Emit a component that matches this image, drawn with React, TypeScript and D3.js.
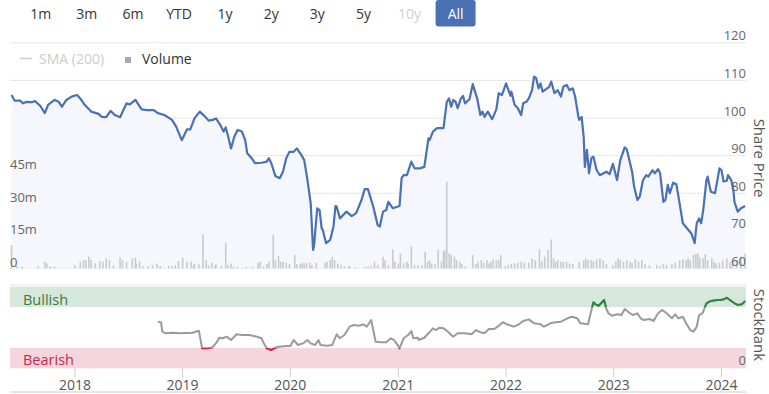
import React from 'react';
import * as d3 from 'd3';

// year-fraction, price
const priceSeries: [number, number][] = [
  [2017.41, 106.1], [2017.44, 104.6], [2017.49, 104.6], [2017.52, 103.9], [2017.55, 104.3], [2017.6, 104.2],
  [2017.63, 104.5], [2017.68, 103.2], [2017.72, 101.3], [2017.75, 103.5], [2017.81, 104.8], [2017.85, 104.3],
  [2017.88, 103.0], [2017.92, 104.8], [2017.97, 105.7], [2018.02, 106.1], [2018.05, 105.2], [2018.09, 103.5],
  [2018.15, 101.7], [2018.22, 101.1], [2018.25, 100.3], [2018.29, 100.2], [2018.33, 101.9], [2018.37, 100.8],
  [2018.42, 100.2], [2018.48, 103.9], [2018.51, 103.6], [2018.56, 104.8], [2018.62, 102.3], [2018.67, 102.1],
  [2018.73, 102.1], [2018.77, 101.3], [2018.83, 100.8], [2018.9, 99.5], [2018.94, 97.7], [2018.99, 94.1],
  [2019.04, 97.0], [2019.07, 97.0], [2019.11, 99.9], [2019.16, 101.7], [2019.21, 100.3], [2019.24, 99.3],
  [2019.28, 99.5], [2019.31, 99.9], [2019.35, 98.1], [2019.38, 96.4], [2019.4, 97.5], [2019.42, 95.5],
  [2019.45, 91.9], [2019.48, 95.0], [2019.51, 96.8], [2019.55, 96.4], [2019.58, 94.1], [2019.6, 90.6],
  [2019.64, 89.3], [2019.67, 88.0], [2019.73, 88.1], [2019.78, 88.4], [2019.8, 89.3], [2019.82, 88.1],
  [2019.86, 84.6], [2019.9, 84.0], [2019.93, 85.7], [2019.96, 89.3], [2019.99, 91.0], [2020.03, 91.0],
  [2020.06, 91.9], [2020.1, 90.2], [2020.13, 88.8], [2020.16, 83.5], [2020.19, 77.3], [2020.21, 64.9],
  [2020.22, 65.8], [2020.25, 76.0], [2020.27, 75.5], [2020.29, 70.7], [2020.3, 70.2], [2020.33, 66.7],
  [2020.37, 67.6], [2020.4, 71.1], [2020.42, 76.6], [2020.43, 76.4], [2020.46, 73.3], [2020.52, 75.1],
  [2020.57, 73.9], [2020.61, 74.7], [2020.66, 78.2], [2020.69, 81.1], [2020.72, 81.1], [2020.77, 76.4],
  [2020.81, 71.5], [2020.83, 71.1], [2020.86, 75.1], [2020.89, 75.5], [2020.91, 77.7], [2020.95, 76.0],
  [2021.01, 76.6], [2021.03, 84.0], [2021.05, 84.8], [2021.08, 84.8], [2021.12, 88.4], [2021.15, 86.6],
  [2021.2, 86.6], [2021.24, 87.0], [2021.28, 94.6], [2021.29, 94.1], [2021.32, 96.4], [2021.36, 97.3],
  [2021.42, 97.3], [2021.45, 104.3], [2021.47, 105.2], [2021.49, 103.0], [2021.51, 104.8], [2021.53, 104.3],
  [2021.55, 102.6], [2021.58, 105.2], [2021.6, 105.9], [2021.62, 103.9], [2021.66, 105.0], [2021.69, 109.0],
  [2021.73, 105.2], [2021.76, 100.8], [2021.78, 101.7], [2021.8, 100.3], [2021.83, 101.7], [2021.87, 99.7],
  [2021.91, 102.3], [2021.93, 106.6], [2021.96, 106.1], [2022.0, 109.2], [2022.04, 105.9], [2022.05, 107.0],
  [2022.08, 103.5], [2022.11, 102.6], [2022.14, 100.8], [2022.16, 103.9], [2022.19, 104.3], [2022.21, 105.2],
  [2022.24, 107.4], [2022.26, 111.0], [2022.28, 110.6], [2022.3, 107.9], [2022.32, 109.2], [2022.34, 107.0],
  [2022.38, 107.9], [2022.4, 108.3], [2022.42, 109.7], [2022.45, 106.6], [2022.48, 107.4], [2022.51, 105.7],
  [2022.53, 108.3], [2022.56, 108.8], [2022.59, 107.4], [2022.62, 107.9], [2022.64, 105.7], [2022.67, 100.3],
  [2022.68, 99.5], [2022.7, 100.3], [2022.72, 95.0], [2022.73, 87.0], [2022.75, 91.5], [2022.77, 85.3],
  [2022.79, 89.3], [2022.81, 89.7], [2022.84, 86.1], [2022.87, 84.8], [2022.93, 85.7], [2022.96, 85.1],
  [2022.99, 87.8], [2023.03, 83.5], [2023.06, 88.8], [2023.1, 92.2], [2023.12, 91.7], [2023.15, 88.0],
  [2023.17, 85.7], [2023.19, 81.7], [2023.22, 78.2], [2023.24, 79.1], [2023.27, 83.5], [2023.3, 84.8],
  [2023.32, 84.4], [2023.36, 86.1], [2023.38, 85.3], [2023.41, 86.4], [2023.43, 85.3], [2023.46, 77.7],
  [2023.48, 78.2], [2023.5, 82.2], [2023.52, 80.0], [2023.55, 82.8], [2023.58, 82.4], [2023.61, 77.3],
  [2023.64, 72.0], [2023.68, 70.7], [2023.72, 69.3], [2023.75, 66.7], [2023.77, 72.0], [2023.79, 73.3],
  [2023.81, 72.0], [2023.83, 75.5], [2023.86, 83.5], [2023.87, 84.4], [2023.9, 80.4], [2023.94, 80.0],
  [2023.95, 81.7], [2023.98, 86.6], [2024.0, 86.1], [2024.02, 83.1], [2024.05, 83.3], [2024.06, 84.8],
  [2024.09, 83.5], [2024.11, 80.9], [2024.12, 77.7], [2024.15, 75.1], [2024.18, 76.0], [2024.22, 76.6],
];

// year-fraction, volume in millions
const volumeSeries: [number, number][] = [
  [2017.41, 10.8], [2017.46, 1.1], [2017.51, 0.8], [2017.66, 1.1], [2017.72, 3.1], [2017.74, 2.3], [2017.77, 1.1],
  [2017.81, 0.8], [2018.0, 1.5], [2018.05, 3.1], [2018.08, 3.8], [2018.1, 3.8], [2018.13, 5.4], [2018.15, 3.8],
  [2018.19, 2.3], [2018.23, 3.4], [2018.26, 3.1], [2018.29, 4.6], [2018.32, 3.8], [2018.36, 1.5], [2018.42, 5.1],
  [2018.44, 3.8], [2018.48, 3.1], [2018.53, 4.6], [2018.56, 4.9], [2018.57, 2.3], [2018.6, 3.4], [2018.63, 1.1],
  [2018.68, 1.1], [2018.72, 1.5], [2018.76, 2.3], [2018.79, 1.1], [2018.87, 1.1], [2018.9, 1.1], [2018.93, 1.5],
  [2018.96, 3.4], [2019.0, 4.9], [2019.04, 3.1], [2019.08, 3.1], [2019.1, 1.5], [2019.11, 2.3], [2019.15, 2.0],
  [2019.19, 15.8], [2019.22, 3.8], [2019.24, 1.5], [2019.27, 2.6], [2019.3, 1.5], [2019.31, 2.0], [2019.36, 1.1],
  [2019.4, 11.8], [2019.42, 1.5], [2019.45, 2.3], [2019.47, 0.8], [2019.51, 0.8], [2019.56, 0.3], [2019.59, 0.8],
  [2019.65, 0.8], [2019.7, 2.6], [2019.72, 3.1], [2019.75, 0.8], [2019.78, 2.0], [2019.8, 3.1], [2019.84, 15.4],
  [2019.86, 3.8], [2019.89, 5.7], [2019.91, 3.1], [2019.93, 3.1], [2019.96, 2.6], [2019.99, 2.0], [2020.04, 6.2],
  [2020.06, 2.0], [2020.09, 2.0], [2020.11, 2.6], [2020.13, 2.3], [2020.15, 2.3], [2020.18, 2.6], [2020.2, 1.5],
  [2020.24, 2.6], [2020.32, 2.6], [2020.34, 3.1], [2020.37, 3.8], [2020.39, 5.1], [2020.41, 3.8], [2020.44, 2.3],
  [2020.47, 1.5], [2020.5, 1.1], [2020.54, 0.8], [2020.55, 1.1], [2020.6, 0.5], [2020.69, 0.8], [2020.72, 0.8],
  [2020.75, 1.1], [2020.78, 3.1], [2020.81, 1.5], [2020.86, 5.4], [2020.88, 3.8], [2020.91, 1.5], [2020.95, 8.8],
  [2020.97, 3.1], [2021.0, 2.3], [2021.02, 6.9], [2021.05, 2.3], [2021.08, 3.1], [2021.09, 2.3], [2021.12, 10.3],
  [2021.15, 1.5], [2021.18, 1.5], [2021.22, 1.5], [2021.25, 7.7], [2021.27, 3.1], [2021.29, 3.8], [2021.31, 2.3],
  [2021.34, 2.0], [2021.37, 8.5], [2021.4, 3.1], [2021.42, 7.7], [2021.43, 8.5], [2021.45, 40.0], [2021.47, 6.9],
  [2021.49, 6.2], [2021.52, 5.4], [2021.54, 3.8], [2021.57, 3.1], [2021.59, 2.0], [2021.62, 0.8], [2021.69, 6.2],
  [2021.72, 2.0], [2021.74, 3.1], [2021.77, 3.8], [2021.79, 2.6], [2021.82, 3.8], [2021.84, 2.3], [2021.86, 3.1],
  [2021.88, 4.1], [2021.91, 3.8], [2021.93, 3.8], [2021.95, 6.2], [2021.99, 1.1], [2022.02, 1.5], [2022.05, 2.0],
  [2022.08, 2.3], [2022.11, 2.6], [2022.14, 3.1], [2022.17, 2.6], [2022.21, 2.6], [2022.24, 4.6], [2022.27, 3.8],
  [2022.31, 8.8], [2022.33, 3.1], [2022.36, 5.4], [2022.39, 8.5], [2022.42, 13.4], [2022.44, 4.6], [2022.46, 3.1],
  [2022.48, 3.8], [2022.51, 3.1], [2022.53, 3.1], [2022.56, 3.1], [2022.59, 2.3], [2022.62, 2.0], [2022.68, 3.1],
  [2022.72, 3.8], [2022.74, 4.6], [2022.76, 3.8], [2022.79, 3.8], [2022.81, 3.1], [2022.84, 4.1], [2022.87, 4.6],
  [2022.9, 3.8], [2022.93, 2.0], [2022.99, 1.5], [2023.02, 3.1], [2023.04, 4.6], [2023.06, 3.8], [2023.09, 3.1],
  [2023.12, 3.8], [2023.15, 3.1], [2023.17, 2.6], [2023.2, 4.1], [2023.23, 3.1], [2023.26, 3.8], [2023.29, 2.0],
  [2023.33, 1.5], [2023.4, 1.5], [2023.43, 1.1], [2023.46, 2.0], [2023.49, 1.5], [2023.54, 2.0], [2023.57, 2.6],
  [2023.61, 3.8], [2023.64, 4.1], [2023.67, 3.8], [2023.69, 4.6], [2023.71, 3.8], [2023.74, 6.2], [2023.76, 6.6],
  [2023.78, 6.9], [2023.8, 5.1], [2023.83, 4.6], [2023.85, 6.6], [2023.87, 3.8], [2023.91, 4.6], [2023.93, 3.1],
  [2023.95, 2.3], [2023.98, 2.6], [2024.01, 3.8], [2024.05, 4.6], [2024.08, 3.1], [2024.1, 4.1], [2024.14, 3.8],
  [2024.18, 5.4], [2024.22, 6.9],
];

// year-fraction, StockRank (0-100)
const rankSeries: [number, number][] = [
  [2018.77, 57.1], [2018.8, 56.4], [2018.81, 44.9], [2018.84, 42.9], [2018.91, 43.6], [2018.98, 42.9],
  [2019.09, 43.6], [2019.15, 46.1], [2019.18, 24.6], [2019.23, 24.6], [2019.28, 25.8], [2019.32, 32.6],
  [2019.34, 37.5], [2019.37, 36.8], [2019.41, 38.7], [2019.45, 34.7], [2019.5, 41.7], [2019.55, 40.8],
  [2019.62, 40.8], [2019.69, 38.7], [2019.73, 36.8], [2019.75, 31.4], [2019.78, 24.5], [2019.82, 22.4],
  [2019.86, 25.2], [2019.89, 26.5], [2019.96, 27.3], [2020.0, 27.3], [2020.03, 34.7], [2020.07, 28.6],
  [2020.12, 30.6], [2020.16, 34.7], [2020.19, 30.6], [2020.23, 28.6], [2020.26, 34.7], [2020.28, 28.6],
  [2020.34, 27.7], [2020.39, 28.6], [2020.43, 41.7], [2020.46, 36.8], [2020.5, 40.8], [2020.55, 51.0],
  [2020.59, 53.1], [2020.64, 52.2], [2020.68, 53.9], [2020.71, 51.0], [2020.75, 59.2], [2020.79, 32.6],
  [2020.84, 31.9], [2020.89, 31.9], [2020.93, 36.8], [2020.96, 34.7], [2020.99, 29.4], [2021.01, 24.6],
  [2021.05, 36.8], [2021.09, 40.8], [2021.12, 45.7], [2021.14, 36.8], [2021.18, 37.5], [2021.19, 34.7],
  [2021.24, 37.5], [2021.28, 42.9], [2021.32, 49.0], [2021.35, 46.9], [2021.38, 49.8], [2021.42, 49.0],
  [2021.46, 44.9], [2021.51, 38.7], [2021.55, 42.9], [2021.62, 42.9], [2021.68, 41.7], [2021.72, 46.9],
  [2021.76, 44.1], [2021.8, 42.9], [2021.84, 48.2], [2021.89, 48.2], [2021.92, 51.0], [2021.97, 56.4],
  [2022.01, 53.9], [2022.07, 51.0], [2022.12, 53.9], [2022.16, 58.0], [2022.21, 60.0], [2022.26, 55.1],
  [2022.32, 53.9], [2022.35, 51.0], [2022.41, 55.1], [2022.46, 56.4], [2022.51, 57.1], [2022.57, 61.3],
  [2022.61, 63.2], [2022.66, 61.3], [2022.69, 55.1], [2022.76, 53.9], [2022.78, 65.3], [2022.81, 80.9],
  [2022.83, 78.4], [2022.86, 76.7], [2022.89, 80.9], [2022.91, 83.7], [2022.93, 72.7], [2022.95, 67.4],
  [2022.98, 64.5], [2023.03, 66.2], [2023.07, 65.3], [2023.1, 72.7], [2023.15, 67.4], [2023.18, 65.3],
  [2023.22, 67.4], [2023.25, 61.3], [2023.28, 59.2], [2023.33, 60.4], [2023.37, 58.0], [2023.41, 67.4],
  [2023.45, 71.4], [2023.49, 67.4], [2023.54, 61.3], [2023.57, 66.2], [2023.6, 61.3], [2023.64, 63.2],
  [2023.67, 55.1], [2023.71, 46.9], [2023.74, 44.9], [2023.77, 51.0], [2023.79, 65.3], [2023.82, 67.4],
  [2023.83, 69.4], [2023.86, 79.7], [2023.9, 82.5], [2023.96, 83.7], [2023.99, 83.7], [2024.03, 84.9],
  [2024.05, 86.5], [2024.09, 82.5], [2024.12, 79.7], [2024.15, 77.6], [2024.19, 78.4], [2024.22, 82.5],
];

const rangeButtons = ['1m', '3m', '6m', 'YTD', '1y', '2y', '3y', '5y', '10y', 'All'];
const priceTicks = [60, 70, 80, 90, 100, 110, 120];
const volumeTicks = [0, 15, 30, 45];

const W = 769;
const H = 394;
const FONT = '"Open Sans", "DejaVu Sans", sans-serif';

const toDate = (t: number) => {
  const y = Math.floor(t);
  return new Date(y, 0, 1 + Math.round((t - y) * 365.25));
};

const x = d3.scaleTime().domain([new Date(2017, 4, 26), new Date(2024, 2, 24)]).range([10, 746]);
const yPrice = d3.scaleLinear().domain([60, 120]).range([268.4, 42.8]);
const yVol = d3.scaleLinear().domain([0, 45]).range([268.4, 170.9]);
const yRank = d3.scaleLinear().domain([0, 100]).range([368.3, 286.7]);

export default function App() {
  const priceLine = d3
    .line<[number, number]>()
    .x((d) => x(toDate(d[0])))
    .y((d) => yPrice(d[1]));
  const priceArea = d3
    .area<[number, number]>()
    .x((d) => x(toDate(d[0])))
    .y0(yPrice(60))
    .y1((d) => yPrice(d[1]));
  const rankLine = d3
    .line<[number, number]>()
    .x((d) => x(toDate(d[0])))
    .y((d) => yRank(d[1]));
  const rankPath = rankLine(rankSeries) || '';
  const years = x.ticks(d3.timeYear.every(1)!);

  return (
    <svg width={W} height={H} style={{ position: 'absolute', left: 0, top: 0, fontFamily: FONT }}>
      <defs>
        <clipPath id="bullClip">
          <rect x={0} y={0} width={W} height={yRank(75)} />
        </clipPath>
        <clipPath id="bearClip">
          <rect x={0} y={yRank(25)} width={W} height={H} />
        </clipPath>
      </defs>
      <rect width={W} height={H} fill="#fff" />

      {/* range selector */}
      {rangeButtons.map((b, i) => {
        const cx = 40.7 + i * 46.1;
        const active = b === 'All';
        return (
          <g key={b}>
            {active && <rect x={cx - 20} y={0} width={40} height={26.5} rx={3} fill="#4a70b5" />}
            <text
              x={cx}
              y={19}
              textAnchor="middle"
              fontSize={14}
              fill={active ? '#fff' : b === '10y' ? '#cfcfcf' : '#333'}
            >
              {b}
            </text>
          </g>
        );
      })}

      {/* price gridlines */}
      {priceTicks.map((t) => (
        <line key={t} x1={10} x2={746} y1={yPrice(t)} y2={yPrice(t)} stroke="#e6e6e6" />
      ))}

      <path d={priceArea(priceSeries) || ''} fill="#f5f7fc" />

      {/* volume */}
      {volumeSeries.map((d, i) => (
        <rect
          key={i}
          x={x(toDate(d[0])) - 0.8}
          y={yVol(d[1])}
          width={1.6}
          height={yVol(0) - yVol(d[1])}
          fill="#c9cacf"
        />
      ))}

      <path d={priceLine(priceSeries) || ''} fill="none" stroke="#4a70b5" strokeWidth={2.2} strokeLinejoin="round" />

      {/* price axis labels */}
      {priceTicks.map((t) => (
        <text key={t} x={746} y={yPrice(t) - 2.5} textAnchor="end" fontSize={13} fill="#666">
          {t}
        </text>
      ))}
      {volumeTicks.map((t) => (
        <text key={t} x={10} y={yVol(t) - 1.5} fontSize={13} fill="#666">
          {t === 0 ? '0' : `${t}m`}
        </text>
      ))}
      <text transform="translate(754,158) rotate(90)" textAnchor="middle" fontSize={15} fill="#555">
        Share Price
      </text>

      {/* legend */}
      <line x1={20} x2={32} y1={58.5} y2={58.5} stroke="#ccc" strokeWidth={1.5} />
      <text x={39} y={64} fontSize={14} fill="#ccc">
        SMA (200)
      </text>
      <rect x={125} y={57} width={6} height={6} fill="#aaa" />
      <text x={142} y={64} fontSize={14} fill="#333">
        Volume
      </text>

      {/* stockrank panel */}
      <line x1={10} x2={746} y1={285} y2={285} stroke="#e6e6e6" />
      <rect x={10} y={yRank(100)} width={736} height={yRank(75) - yRank(100)} fill="#d6e8dc" />
      <rect x={10} y={yRank(25)} width={736} height={yRank(0) - yRank(25)} fill="#f5d6dc" />
      <text x={23} y={305} fontSize={14.5} fill="#3b7b3e">
        Bullish
      </text>
      <text x={23} y={365} fontSize={14.5} fill="#c4284b">
        Bearish
      </text>
      <path d={rankPath} fill="none" stroke="#9a9a9a" strokeWidth={2} strokeLinejoin="round" />
      <path d={rankPath} fill="none" stroke="#2e8540" strokeWidth={2} strokeLinejoin="round" clipPath="url(#bullClip)" />
      <path d={rankPath} fill="none" stroke="#d0264a" strokeWidth={2} strokeLinejoin="round" clipPath="url(#bearClip)" />
      <text x={746} y={364.5} textAnchor="end" fontSize={13} fill="#666">
        0
      </text>
      <text transform="translate(754,325) rotate(90)" textAnchor="middle" fontSize={15} fill="#555">
        StockRank
      </text>

      {/* x axis */}
      {years.map((d) => (
        <g key={d.getFullYear()}>
          <line x1={x(d)} x2={x(d)} y1={368.3} y2={377} stroke="#ccc" />
          <text x={x(d)} y={390} textAnchor="middle" fontSize={14} fill="#555">
            {d3.timeFormat('%Y')(d)}
          </text>
        </g>
      ))}
      <line x1={10} x2={746} y1={392} y2={392} stroke="#ccc" />
    </svg>
  );
}
